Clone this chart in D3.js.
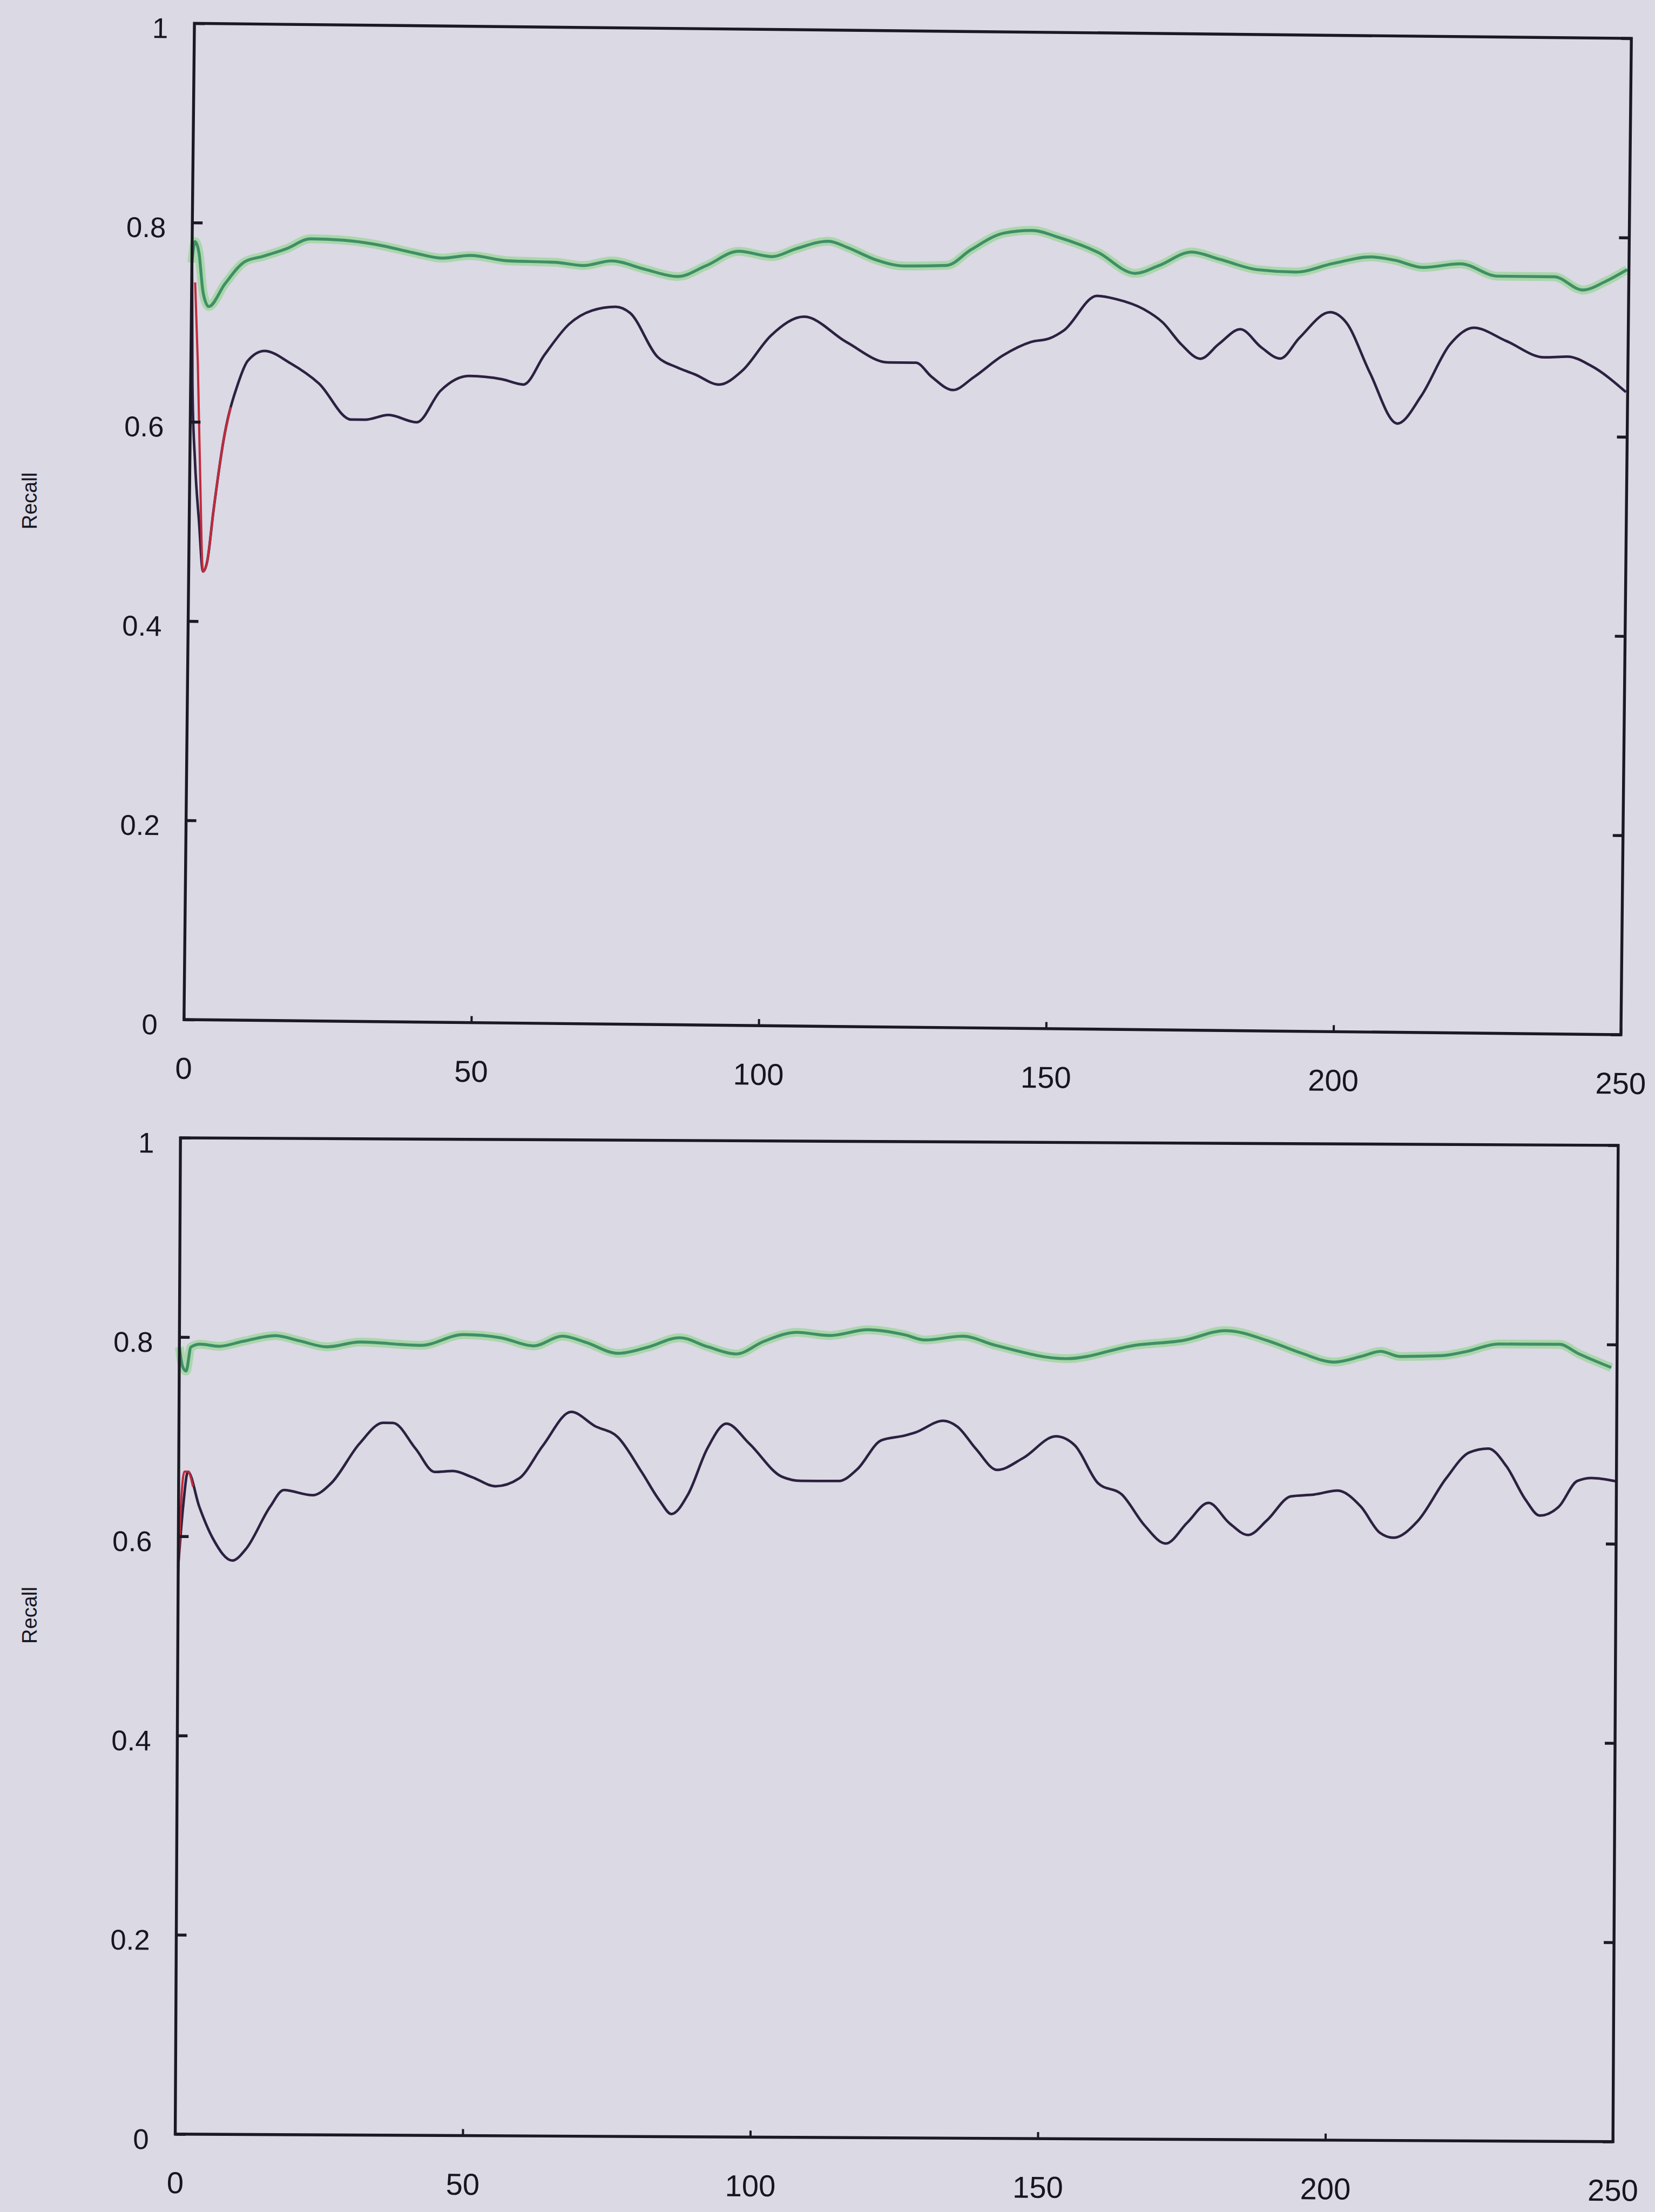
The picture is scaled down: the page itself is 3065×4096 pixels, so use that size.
<!DOCTYPE html>
<html>
<head>
<meta charset="utf-8">
<script src="https://cdn.jsdelivr.net/npm/d3@7"></script>
<style>
  html, body { margin: 0; padding: 0; background: #dad9e4; }
  svg { display: block; }
  text { font-family: "Liberation Sans", Arial, sans-serif; fill: #17161f; }
</style>
</head>
<body>
<script>
// tick labels
var xTicks = [0, 50, 100, 150, 200, 250];
var yTicks = [0, 0.2, 0.4, 0.6, 0.8, 1];
var yTitle = 'Recall';

// upper chart: [x, recall]
var topGreen = [[0,0.76],[0.5,0.781],[1.2,0.77],[2,0.73],[3,0.716],[5.8,0.739],[9.1,0.761],[12.4,0.767],
  [16.5,0.775],[20.6,0.785],[26.3,0.784],[32,0.78],[38.6,0.772],[43.5,0.767],[48.4,0.77],[55,0.765],
  [63.2,0.764],[68.1,0.761],[73,0.766],[78.8,0.758],[84.5,0.751],[89.4,0.762],[95.1,0.777],[100.9,0.772],
  [105,0.78],[110.7,0.788],[114,0.782],[118.9,0.77],[123.8,0.764],[131.3,0.765],[135.5,0.781],[141.2,0.798],
  [146.1,0.801],[150.9,0.794],[157.5,0.78],[164.1,0.759],[168.2,0.767],[173.9,0.781],[178.8,0.774],
  [185.4,0.764],[192,0.762],[198.5,0.771],[205.1,0.778],[209.2,0.775],[214.1,0.768],[220.7,0.772],
  [227.2,0.76],[237,0.76],[242,0.747],[246,0.756],[249.7,0.768]];

var topDark = [[0,0.77],[0.3,0.64],[0.9,0.56],[1.7,0.5],[2.5,0.45],[3.2,0.46],[4.2,0.511],[5.8,0.581],
  [8.3,0.64],[9.9,0.662],[12.8,0.672],[17.3,0.66],[22.3,0.64],[28,0.604],[30.4,0.604],[34.5,0.609],
  [39.4,0.602],[43.5,0.634],[48.4,0.649],[54.2,0.646],[57.9,0.641],[61.5,0.671],[65.7,0.702],[69.7,0.716],
  [73.8,0.72],[76.3,0.714],[81.2,0.67],[84.5,0.66],[87.7,0.653],[91.9,0.643],[95.9,0.657],[100.9,0.693],
  [106.6,0.712],[114,0.687],[121.3,0.667],[126.1,0.667],[128.9,0.653],[132.6,0.64],[136.2,0.653],
  [141.2,0.675],[146.1,0.689],[149.4,0.693],[151.8,0.701],[157.5,0.736],[160.8,0.733],[165.7,0.723],
  [169,0.71],[172.3,0.688],[175.6,0.674],[178.8,0.689],[182.5,0.704],[186.2,0.686],[189.5,0.675],
  [192.8,0.696],[198.1,0.722],[200.9,0.712],[205.1,0.662],[210,0.611],[214.1,0.639],[219,0.691],
  [223.1,0.708],[228.8,0.695],[235.4,0.679],[239.5,0.68],[243.6,0.671],[249.7,0.645]];

var topRed = [[0.6,0.74],[1.2,0.66],[1.8,0.55],[2.5,0.45],[3.2,0.46],[4.2,0.511],[5.8,0.581],[7,0.615]];

// lower chart
var botGreen = [[0,0.79],[0.6,0.77],[1.2,0.766],[2,0.79],[3.6,0.793],[6.9,0.791],[11,0.796],[16.7,0.802],
  [20.8,0.797],[25.7,0.791],[31.4,0.796],[42,0.793],[49.4,0.804],[55.9,0.801],[61.6,0.793],[66.6,0.803],
  [70.6,0.797],[76.3,0.786],[81.3,0.792],[87,0.802],[91.9,0.793],[96.8,0.786],[101.7,0.799],[107.4,0.808],
  [113.1,0.805],[119.7,0.811],[126.2,0.806],[129.6,0.801],[136.2,0.805],[141.9,0.796],[154.2,0.783],
  [166.4,0.797],[174.6,0.802],[181.9,0.812],[189.3,0.802],[195,0.79],[200.8,0.781],[205.6,0.787],
  [208.9,0.792],[212.2,0.787],[219.5,0.788],[223.6,0.792],[229.4,0.8],[240,0.8],[243.2,0.791],[249,0.777]];

var botDark = [[0,0.57],[0.8,0.63],[1.6,0.665],[3.6,0.63],[6.1,0.597],[9.4,0.576],[11.8,0.588],[15.9,0.63],
  [18.3,0.647],[23.3,0.642],[26.5,0.654],[31.4,0.694],[35.5,0.715],[37.2,0.715],[41.2,0.689],[44.5,0.666],
  [47.7,0.667],[51,0.661],[55.1,0.652],[59.2,0.66],[63.3,0.693],[68.2,0.727],[72.3,0.713],[76.3,0.702],
  [80.5,0.667],[83.7,0.638],[85.7,0.625],[88.6,0.645],[91.9,0.691],[95.2,0.716],[99.2,0.696],[104.9,0.663],
  [108.2,0.659],[114.8,0.659],[118,0.671],[122.1,0.7],[126.2,0.705],[128,0.708],[132.9,0.72],[135.4,0.714],
  [138.6,0.692],[142.3,0.671],[146.8,0.683],[152.5,0.705],[155.8,0.696],[159.9,0.658],[164,0.647],
  [168,0.616],[171.7,0.598],[175.4,0.619],[179.1,0.639],[182.7,0.619],[186,0.607],[189.3,0.622],
  [193.4,0.646],[197.5,0.648],[201.5,0.652],[205.6,0.636],[208.9,0.61],[211.3,0.605],[215.5,0.622],
  [220.4,0.665],[224.4,0.691],[227.7,0.695],[230.9,0.677],[234.2,0.644],[236.7,0.628],[240,0.637],
  [243.2,0.663],[245.7,0.666],[249.8,0.663]];

var botRed = [[0,0.56],[0.5,0.64],[1,0.665],[1.6,0.665],[2.5,0.65]];

var W = 3065, H = 4096, S = 0.677;

// panel frames in reference pixels (the scan is slightly skewed, hence rot)
var panels = [
  {cx: 2483, cy: 1447, w: 3931, h: 2725, rot: 0.6, titleY: 1370, green: topGreen, dark: topDark, red: topRed},
  {cx: 2453, cy: 4485, w: 3933, h: 2725, rot: 0.3, titleY: 4418, green: botGreen, dark: botDark, red: botRed}
];

var svg = d3.select('body').append('svg').attr('width', W).attr('height', H);
svg.append('rect').attr('width', W).attr('height', H).attr('fill', '#dad9e4');
var root = svg.append('g').attr('transform', 'scale(' + S + ')');

panels.forEach(function(p) {
  var g = root.append('g')
    .attr('transform', 'translate(' + (p.cx - p.w / 2) + ',' + (p.cy - p.h / 2) + ') rotate(' + p.rot + ',' + (p.w / 2) + ',' + (p.h / 2) + ')');

  var x = d3.scaleLinear().domain([0, 250]).range([0, p.w]);
  var y = d3.scaleLinear().domain([0, 1]).range([p.h, 0]);

  var line = d3.line().x(function(d) { return x(d[0]); }).y(function(d) { return y(d[1]); })
    .curve(d3.curveMonotoneX);

  // green series: soft halo + core
  g.append('path').datum(p.green).attr('d', line)
    .attr('fill', 'none').attr('stroke', '#9fd49c').attr('stroke-width', 24).attr('stroke-opacity', 0.8)
    .attr('stroke-linejoin', 'round');
  g.append('path').datum(p.green).attr('d', line)
    .attr('fill', 'none').attr('stroke', '#3f8f66').attr('stroke-width', 8).attr('stroke-linejoin', 'round');

  g.append('path').datum(p.dark).attr('d', line)
    .attr('fill', 'none').attr('stroke', '#2c2140').attr('stroke-width', 7).attr('stroke-linejoin', 'round');
  g.append('path').datum(p.red).attr('d', line)
    .attr('fill', 'none').attr('stroke', '#c22a3c').attr('stroke-width', 6).attr('stroke-linejoin', 'round');

  // frame
  g.append('rect').attr('x', 0).attr('y', 0).attr('width', p.w).attr('height', p.h)
    .attr('fill', 'none').attr('stroke', '#1b1a24').attr('stroke-width', 8);

  var left = g.append('g').call(d3.axisLeft(y).tickValues(yTicks).tickSize(-28).tickPadding(72)
    .tickFormat(function(d) { return String(d); }));
  left.select('.domain').remove();
  left.selectAll('line').attr('stroke', '#1b1a24').attr('stroke-width', 8);
  left.selectAll('text').attr('font-size', 78).attr('dy', '0.52em').attr('fill', '#17161f');

  var right = g.append('g').attr('transform', 'translate(' + p.w + ',0)')
    .call(d3.axisRight(y).tickValues(yTicks).tickSize(-28).tickFormat(''));
  right.select('.domain').remove();
  right.selectAll('line').attr('stroke', '#1b1a24').attr('stroke-width', 8);

  var bottom = g.append('g').attr('transform', 'translate(0,' + p.h + ')')
    .call(d3.axisBottom(x).tickValues(xTicks).tickSize(-18).tickPadding(103)
      .tickFormat(function(d) { return String(d); }));
  bottom.select('.domain').remove();
  bottom.selectAll('line').attr('stroke', '#1b1a24').attr('stroke-width', 6);
  bottom.selectAll('text').attr('font-size', 83).attr('fill', '#17161f');

  root.append('text').attr('transform', 'translate(100,' + p.titleY + ') rotate(-90)')
    .attr('text-anchor', 'middle').attr('font-size', 56).text(yTitle);
});
</script>
</body>
</html>
